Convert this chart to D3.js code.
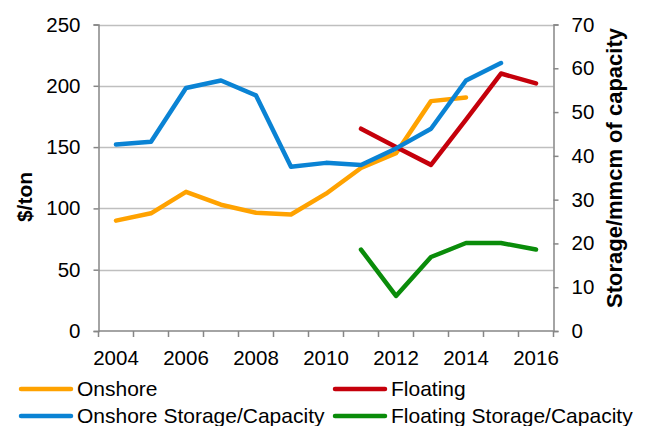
<!DOCTYPE html>
<html>
<head>
<meta charset="utf-8">
<script src="https://cdn.jsdelivr.net/npm/d3@7"></script>
<style>
  html, body { margin: 0; padding: 0; background: #fff; }
  svg { display: block; font-family: "Liberation Sans", Arial, sans-serif; }
</style>
</head>
<body>
<svg id="chart" width="647" height="426"></svg>
<script>
// Years on the category axis
const years = ["2004","2005","2006","2007","2008","2009","2010","2011","2012","2013","2014","2015","2016"];
const yearLabels = ["2004","2006","2008","2010","2012","2014","2016"];

// Cost series ($/ton, left axis); null = no data
const onshore  = [90, 96, 113.5, 103, 96.5, 95, 112, 133, 145, 187.5, 190.5, null, null];
const floating = [null, null, null, null, null, null, null, 165, 150, 135.5, 172.5, 210, 202];

// Storage series (mmcm of capacity, right axis)
const onshoreStorage  = [42.6, 43.2, 55.5, 57.2, 53.8, 37.5, 38.4, 37.9, 41.7, 46.2, 57.2, 61.2, null];
const floatingStorage = [null, null, null, null, null, null, null, 18.6, 8.0, 16.9, 20.1, 20.1, 18.6];

const leftTicks  = [0, 50, 100, 150, 200, 250];
const rightTicks = [0, 10, 20, 30, 40, 50, 60, 70];

const seriesDefs = [
  { name: "Onshore",                    values: onshore,         axis: "left",  color: "#FFA200" },
  { name: "Floating",                   values: floating,        axis: "left",  color: "#C5000B" },
  { name: "Onshore Storage/Capacity",   values: onshoreStorage,  axis: "right", color: "#0A83D4" },
  { name: "Floating Storage/Capacity",  values: floatingStorage, axis: "right", color: "#0A8C0A" }
];

const svg = d3.select("#chart");
const plot = { left: 98.5, right: 553.5, top: 24.5, bottom: 331 };

const x = d3.scaleBand().domain(years).range([plot.left, plot.right]).padding(0);
const yL = d3.scaleLinear().domain([0, 250]).range([plot.bottom, plot.top]);
const yR = d3.scaleLinear().domain([0, 70]).range([plot.bottom, plot.top]);

const axisColor = "#868686";
const gridColor = "#BFBFBF";
const labelSize = 20.5;

// Horizontal gridlines from the left axis
svg.append("g")
  .selectAll("line")
  .data(leftTicks.filter(d => d > 0))
  .join("line")
  .attr("x1", plot.left).attr("x2", plot.right)
  .attr("y1", d => Math.round(yL(d)) + 0.5).attr("y2", d => Math.round(yL(d)) + 0.5)
  .attr("stroke", gridColor).attr("stroke-width", 1.5);

// Left axis
const gLeft = svg.append("g")
  .attr("transform", `translate(${plot.left},0)`)
  .call(d3.axisLeft(yL).tickValues(leftTicks).tickSize(5).tickPadding(13));
// Right axis
const gRight = svg.append("g")
  .attr("transform", `translate(${plot.right},0)`)
  .call(d3.axisRight(yR).tickValues(rightTicks).tickSize(5).tickPadding(13));
// Bottom axis: tick marks at category boundaries, labels on every other category
const boundaries = years.map(y => x(y)).concat([plot.right]);
const gBottom = svg.append("g");
gBottom.append("line")
  .attr("x1", plot.left).attr("x2", plot.right)
  .attr("y1", plot.bottom).attr("y2", plot.bottom)
  .attr("stroke", axisColor).attr("stroke-width", 1.5);
gBottom.selectAll("line.tick")
  .data(boundaries)
  .join("line")
  .attr("class", "tick")
  .attr("x1", d => d).attr("x2", d => d)
  .attr("y1", plot.bottom).attr("y2", plot.bottom + 6)
  .attr("stroke", axisColor).attr("stroke-width", 1.5);
gBottom.selectAll("text")
  .data(yearLabels)
  .join("text")
  .attr("x", d => x(d) + x.bandwidth() / 2)
  .attr("y", plot.bottom + 34)
  .attr("text-anchor", "middle")
  .attr("font-size", labelSize)
  .attr("fill", "#000")
  .text(d => d);

[gLeft, gRight].forEach(g => {
  g.select(".domain").attr("stroke", axisColor).attr("stroke-width", 1.5);
  g.selectAll(".tick line").attr("stroke", axisColor).attr("stroke-width", 1.5);
  g.selectAll(".tick text").attr("font-size", labelSize).attr("fill", "#000")
    .attr("font-family", "Liberation Sans, Arial, sans-serif");
});

// Axis titles
svg.append("text")
  .attr("transform", "translate(32,197) rotate(-90)")
  .attr("text-anchor", "middle")
  .attr("font-size", 21).attr("font-weight", "bold")
  .text("$/ton");
svg.append("text")
  .attr("transform", "translate(622,168) rotate(-90)")
  .attr("text-anchor", "middle")
  .attr("font-size", 22).attr("font-weight", "bold")
  .text("Storage/mmcm of capacity");

// Series lines
const cx = (i) => x(years[i]) + x.bandwidth() / 2;
seriesDefs.forEach(s => {
  const yScale = s.axis === "left" ? yL : yR;
  const line = d3.line()
    .defined(d => d != null)
    .x((d, i) => cx(i))
    .y(d => yScale(d));
  svg.append("path")
    .datum(s.values)
    .attr("d", line)
    .attr("fill", "none")
    .attr("stroke", s.color)
    .attr("stroke-width", 4.5)
    .attr("stroke-linejoin", "round")
    .attr("stroke-linecap", "round");
});

// Legend, two columns
const legendPos = [
  { x: 20,  y: 389 },
  { x: 334, y: 389 },
  { x: 20,  y: 416 },
  { x: 334, y: 416 }
];
const legend = svg.append("g");
seriesDefs.forEach((s, k) => {
  const p = legendPos[k];
  legend.append("line")
    .attr("x1", p.x + 1).attr("x2", p.x + 51)
    .attr("y1", p.y).attr("y2", p.y)
    .attr("stroke", s.color).attr("stroke-width", 4.5)
    .attr("stroke-linecap", "round");
  legend.append("text")
    .attr("x", p.x + 57).attr("y", p.y)
    .attr("dy", "0.35em")
    .attr("font-size", 21)
    .text(s.name);
});
</script>
</body>
</html>
